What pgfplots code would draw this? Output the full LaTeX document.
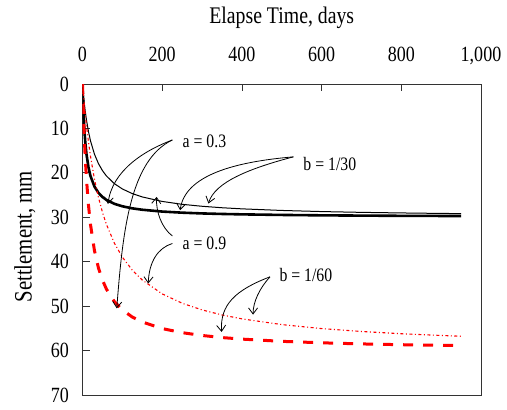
\documentclass[border=0pt]{standalone}
\usepackage{fontspec}
\setmainfont{Liberation Serif}[FakeStretch=0.83]
\usepackage{pgfplots}
\pgfplotsset{compat=1.18}
\usetikzlibrary{arrows.meta}

\tikzset{
    annot/.style={draw=black, line width=0.8bp,
        -{Straight Barb[length=6bp,width=9bp,line width=0.8bp]}},
    lab/.style={anchor=west, inner sep=0pt, font=\fontsize{19bp}{21bp}\selectfont},
}

% settlement curves, s = t/(a + b t)
\pgfplotstableread{
t    s
0    0
1    3.00
2    5.45
3    7.50
5    10.71
7    13.13
10   15.79
15   18.75
20   20.69
30   23.08
40   24.49
50   25.42
60   26.09
80   26.97
100  27.52
125  27.99
150  28.30
200  28.71
250  28.96
300  29.13
350  29.25
400  29.34
500  29.47
600  29.56
700  29.62
800  29.67
900  29.70
950  29.72
}\athreebthirty
\pgfplotstableread{
t    s
0    0
1    1.07
2    2.07
3    3.00
5    4.69
7    6.18
10   8.11
15   10.71
20   12.77
30   15.79
40   17.91
50   19.48
60   20.69
80   22.43
100  23.62
125  24.67
150  25.42
200  26.43
250  27.08
300  27.52
350  27.85
400  28.10
500  28.46
600  28.71
700  28.89
800  29.02
900  29.13
950  29.17
}\aninebthirty
\pgfplotstableread{
t    s
0    0
1    3.16
2    6.00
3    8.57
5    13.04
7    16.80
10   21.43
15   27.27
20   31.58
30   37.50
40   41.38
50   44.12
60   46.15
80   48.98
100  50.85
125  52.45
150  53.57
200  55.05
250  55.97
300  56.60
350  57.07
400  57.42
500  57.92
600  58.25
700  58.50
800  58.68
900  58.82
950  58.88
}\athreebsixty
\pgfplotstableread{
t    s
0    0
1    1.09
2    2.14
3    3.16
5    5.08
7    6.89
10   9.38
15   13.04
20   16.22
30   21.43
40   25.53
50   28.85
60   31.58
80   35.82
100  38.96
125  41.90
150  44.12
200  47.24
250  49.34
300  50.85
350  51.98
400  52.86
500  54.15
600  55.05
700  55.70
800  56.21
900  56.60
950  56.77
}\aninebsixty

\begin{document}
\begin{tikzpicture}
\useasboundingbox (-82.5bp,-15bp) rectangle (424.5bp,395bp);
\begin{axis}[
    at={(0,0)}, anchor=south west,
    scale only axis,
    width=398.5bp, height=311bp,
    xmin=0, xmax=1000,
    ymin=0, ymax=70,
    y dir=reverse,
    xtick={0,200,...,1000},
    ytick={0,10,...,70},
    xtick pos=upper, xticklabel pos=upper,
    ytick pos=left,
    tick align=inside,
    major tick length=7bp,
    axis line style={black!80, line width=1bp},
    tick style={black!80, line width=0.8bp},
    /pgf/number format/assume math mode=true,
    /pgf/number format/1000 sep={,},
    ticklabel style={font=\fontsize{21.7bp}{23bp}\selectfont},
    xticklabel style={anchor=base, yshift=22.5bp},
    yticklabel style={anchor=east, inner sep=0pt, xshift=-13.5bp},
    xlabel={Elapse Time, days},
    xlabel style={at={(axis description cs:0.5,1)}, anchor=base, yshift=60.7bp,
        font=\fontsize{23.8bp}{25bp}\selectfont},
    ylabel={Settlement, mm},
    ylabel style={at={(axis description cs:-0.1443,0.509)}, anchor=center,
        font=\fontsize{25bp}{27bp}\selectfont},
]
\addplot[black, line width=2.6bp] table[x=t, y=s] {\athreebthirty};
\addplot[black, line width=1bp] table[x=t, y=s] {\aninebthirty};
\addplot[red, line width=3bp, dash pattern=on 10bp off 10bp] table[x=t, y=s] {\athreebsixty};
\addplot[red, line width=1.1bp, dash pattern=on 3bp off 2.5bp on 1bp off 2.5bp] table[x=t, y=s] {\aninebsixty};

% labels
\node[lab] at (axis cs:251,12.8) {a = 0.3};
\node[lab] at (axis cs:251,35.9) {a = 0.9};
\node[lab] at (axis cs:554,17.9) {b = 1/30};
\node[lab] at (axis cs:494,43.1) {b = 1/60};

% callout arrows
\draw[annot] (axis cs:225.5,12.6) .. controls (axis cs:157,14.9) and (axis cs:74,19.4) .. (axis cs:64,27.0);
\draw[annot] (axis cs:225.5,12.6) .. controls (axis cs:120,17.1) and (axis cs:101,32.9) .. (axis cs:86,50.5);
\draw[annot] (axis cs:225.5,34.2) .. controls (axis cs:199,32.4) and (axis cs:184,28.8) .. (axis cs:186,25.4);
\draw[annot] (axis cs:225.5,35.9) .. controls (axis cs:189,36.9) and (axis cs:167,40.0) .. (axis cs:165,44.9);
\draw[annot] (axis cs:529,16.4) .. controls (axis cs:383,17.5) and (axis cs:257,20.5) .. (axis cs:245,28.4);
\draw[annot] (axis cs:529,16.4) .. controls (axis cs:420,18.98) and (axis cs:332,22.06) .. (axis cs:316,26.9);
\draw[annot] (axis cs:470.5,43.4) .. controls (axis cs:383,46.4) and (axis cs:345,49.7) .. (axis cs:349,55.8);
\draw[annot] (axis cs:470.5,43.4) .. controls (axis cs:445,45.9) and (axis cs:428,49.0) .. (axis cs:428,51.9);
\end{axis}
\end{tikzpicture}
\end{document}
